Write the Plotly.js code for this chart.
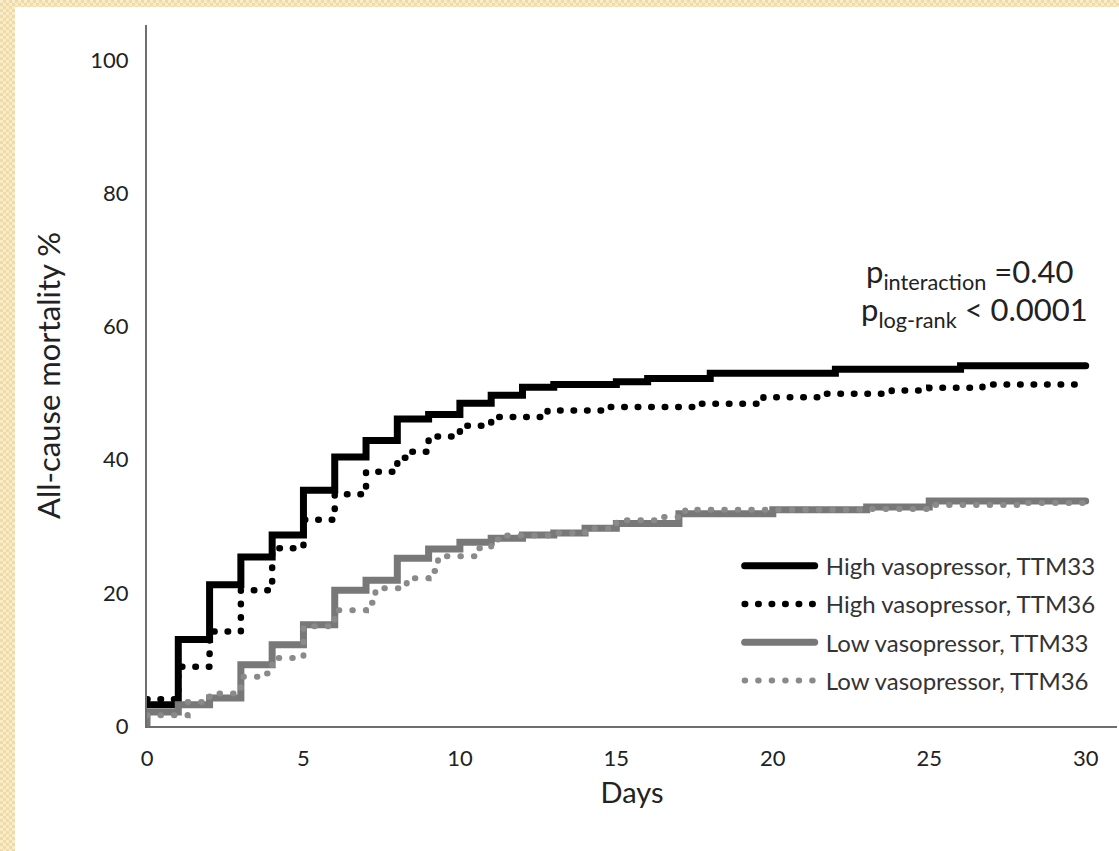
<!DOCTYPE html>
<html>
<head>
<meta charset="utf-8">
<script src="https://cdn.plot.ly/plotly-3.0.1.min.js"></script>
<style>
  html, body { margin: 0; padding: 0; }
  body {
    width: 1119px; height: 851px; overflow: hidden; position: relative;
    background: repeating-conic-gradient(#f0dba6 0 25%, #f8ecc9 0 50%) 0 0 / 6px 6px;
  }
  #chart { position: absolute; left: 15px; top: 7px; width: 1104px; height: 844px; background: #fff; }
  .js-line { stroke-linecap: round !important; }
</style>
</head>
<body>
<div id="chart"></div>
<script>
// High vasopressor, TTM33
const highTTM33Days = [0, 1, 2, 3, 4, 5, 6, 7, 8, 9, 10, 11, 12, 13, 15, 16, 18, 22, 26, 30];
const highTTM33Vals = [3.2, 13.0, 21.2, 25.4, 28.7, 35.4, 40.4, 42.9, 46.1, 46.8, 48.5, 49.7, 50.9, 51.3, 51.7, 52.2, 53.0, 53.6, 54.1, 54.1];
// High vasopressor, TTM36
const highTTM36Days = [0, 1, 2, 3, 4, 5, 6, 7, 8, 8.3, 9, 10, 11, 12.8, 14.7, 17.7, 19.7, 21.7, 23.8, 25, 26.7, 30];
const highTTM36Vals = [4.0, 8.9, 14.2, 20.4, 26.7, 31.0, 34.8, 38.2, 40.3, 41.2, 43.5, 45.1, 46.4, 47.4, 47.9, 48.4, 49.4, 49.9, 50.4, 50.8, 51.3, 51.3];
// Low vasopressor, TTM33
const lowTTM33Days = [0, 0, 1, 2, 3, 4, 5, 6, 7, 8, 9, 10, 11, 12, 13, 14, 15, 17, 20, 23, 25, 30];
const lowTTM33Vals = [0, 2.1, 3.2, 4.2, 9.2, 12.2, 15.2, 20.4, 21.9, 25.2, 26.6, 27.6, 28.2, 28.7, 29.0, 29.7, 30.4, 31.9, 32.5, 32.9, 33.8, 33.8];
// Low vasopressor, TTM36
const lowTTM36Days = [0, 1.3, 2, 3, 3.8, 4, 5, 6, 7, 7.3, 8.3, 9, 9.3, 10.5, 11, 11.3, 13, 14, 15, 16.4, 17.2, 20, 23, 25, 28, 30];
const lowTTM36Vals = [1.6, 3.6, 4.9, 7.4, 7.9, 10.2, 15.0, 17.4, 18.5, 20.7, 22.2, 23.3, 25.5, 26.7, 28.0, 28.6, 29.0, 29.7, 30.9, 31.4, 32.5, 32.5, 32.6, 33.2, 33.5, 33.8];

const seriesNames = ["High vasopressor, TTM33", "High vasopressor, TTM36", "Low vasopressor, TTM33", "Low vasopressor, TTM36"];
const xTickVals = [0, 5, 10, 15, 20, 25, 30];
const yTickVals = [0, 20, 40, 60, 80, 100];

const FONT = "Lato, 'Open Sans', sans-serif";
const dotDash = "0.5px,13px";
const pad = "\u00a0";

const traces = [
  {x: highTTM33Days, y: highTTM33Vals, name: pad + seriesNames[0], legendgroup: "a",
   line: {shape: "hv", color: "#000000", width: 7}},
  {x: highTTM36Days, y: highTTM36Vals, name: pad + seriesNames[1], legendgroup: "b",
   line: {shape: "hv", color: "#000000", width: 6.5, dash: dotDash}},
  {x: lowTTM33Days, y: lowTTM33Vals, name: pad + seriesNames[2], legendgroup: "c",
   line: {shape: "hv", color: "#787878", width: 7}},
  {x: lowTTM36Days, y: lowTTM36Vals, name: pad + seriesNames[3], legendgroup: "d",
   line: {shape: "hv", color: "#8a8a8a", width: 6, dash: dotDash}}
].map(t => Object.assign({type: "scatter", mode: "lines", hoverinfo: "skip"}, t));

const layout = {
  width: 1104, height: 844,
  margin: {l: 132, r: 2, t: 18, b: 125},
  paper_bgcolor: "#ffffff", plot_bgcolor: "#ffffff",
  font: {family: FONT, color: "#222222"},
  showlegend: true,
  legend: {
    x: 0.611, y: 0.26, xanchor: "left", yanchor: "top",
    bgcolor: "rgba(0,0,0,0)", font: {size: 24, color: "#333333", family: FONT},
    tracegroupgap: 4, itemwidth: 70
  },
  xaxis: {
    range: [0, 31], tickvals: xTickVals, ticktext: xTickVals.map(String),
    showgrid: false, zeroline: false, showline: true, linecolor: "#6e6e6e", linewidth: 2,
    ticks: "", tickfont: {size: 22, color: "#222222", family: FONT}, ticklabelstandoff: 12,
    title: {text: "Days", font: {size: 29, color: "#222222", family: FONT}, standoff: 12}
  },
  yaxis: {
    range: [0, 105.3], tickvals: yTickVals, ticktext: yTickVals.map(String),
    showgrid: false, zeroline: false, showline: true, linecolor: "#6e6e6e", linewidth: 2,
    ticks: "", tickfont: {size: 22, color: "#222222", family: FONT}, ticklabelstandoff: 12,
    title: {text: "All-cause mortality %", font: {size: 31, color: "#222222", family: FONT}, standoff: 20}
  },
  annotations: [
    {xref: "paper", yref: "paper", x: 0.958, y: 0.646, xanchor: "right", yanchor: "middle",
     text: "p<sub>interaction</sub> =0.40", showarrow: false, font: {size: 31, color: "#222222", family: FONT}},
    {xref: "paper", yref: "paper", x: 0.972, y: 0.591, xanchor: "right", yanchor: "middle",
     text: "p<sub>log-rank</sub> < 0.0001", showarrow: false, font: {size: 31, color: "#222222", family: FONT}}
  ]
};

Plotly.newPlot("chart", traces, layout, {displayModeBar: false, staticPlot: true});
</script>
</body>
</html>
